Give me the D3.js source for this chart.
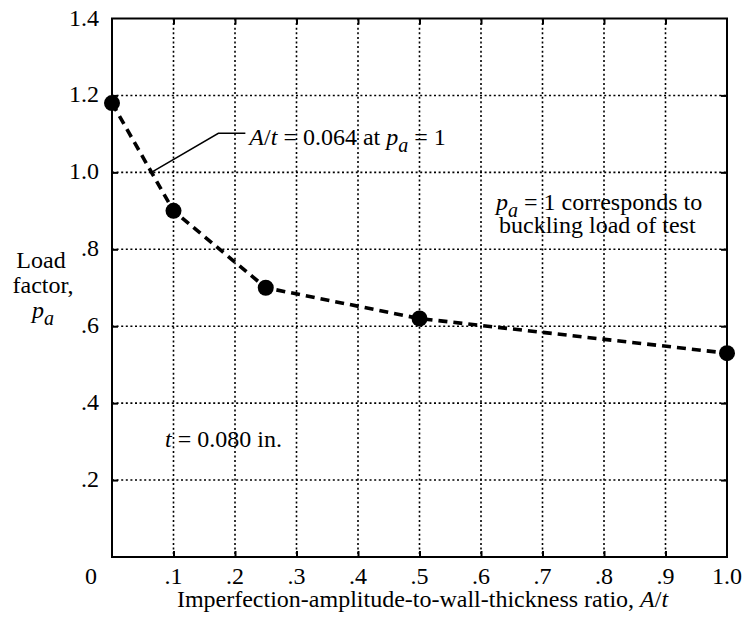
<!DOCTYPE html>
<html>
<head>
<meta charset="utf-8">
<script src="https://cdn.jsdelivr.net/npm/d3@7"></script>
<style>
  body { margin: 0; background: #fff; }
</style>
</head>
<body>
<svg width="748" height="619"></svg>
<script>
// Dados: A/t (razao) x fator de carga p_a
var razaoAt = [0, 0.1, 0.25, 0.5, 1.0];
var fatorCarga = [1.18, 0.90, 0.70, 0.62, 0.53];

// Ticks e rotulos dos eixos
var ticksX = [0, 0.1, 0.2, 0.3, 0.4, 0.5, 0.6, 0.7, 0.8, 0.9, 1.0];
var rotulosX = ["0", ".1", ".2", ".3", ".4", ".5", ".6", ".7", ".8", ".9", "1.0"];
var ticksY = [0.2, 0.4, 0.6, 0.8, 1.0, 1.2, 1.4];
var rotulosY = [".2", ".4", ".6", ".8", "1.0", "1.2", "1.4"];

// Ponto da anotacao (A/t = 0.064 em p_a = 1)
var anotacaoAt = 0.064, anotacaoP = 1.0;

var svg = d3.select("svg");
var margem = {esq: 112, dir: 727, topo: 18.5, base: 557};

var x = d3.scaleLinear().domain([0, 1]).range([margem.esq, margem.dir]);
var y = d3.scaleLinear().domain([0, 1.4]).range([margem.base, margem.topo]);

// Grade pontilhada
var grade = svg.append("g").attr("class", "grade");
grade.selectAll("line.gx")
  .data(ticksX.filter(function(d){ return d > 0 && d < 1; }))
  .enter().append("line")
    .attr("x1", function(d){ return x(d); })
    .attr("x2", function(d){ return x(d); })
    .attr("y1", y(1.4)).attr("y2", y(0))
    .attr("stroke", "#000").attr("stroke-width", 1.6)
    .attr("stroke-dasharray", "2,2.6");
grade.selectAll("line.gy")
  .data(ticksY.filter(function(d){ return d < 1.4; }))
  .enter().append("line")
    .attr("y1", function(d){ return y(d); })
    .attr("y2", function(d){ return y(d); })
    .attr("x1", x(0)).attr("x2", x(1))
    .attr("stroke", "#000").attr("stroke-width", 1.6)
    .attr("stroke-dasharray", "2,2.6");

// Marcas solidas curtas nas bordas (eixos do d3, para dentro)
var eixoInfer = d3.axisBottom(x).tickValues(ticksX.slice(1, -1)).tickSize(-6).tickFormat("");
var eixoSuper = d3.axisTop(x).tickValues(ticksX.slice(1, -1)).tickSize(-6).tickFormat("");
var eixoEsq = d3.axisLeft(y).tickValues(ticksY.slice(0, -1)).tickSize(-6).tickFormat("");
var eixoDir = d3.axisRight(y).tickValues(ticksY.slice(0, -1)).tickSize(-6).tickFormat("");
[[eixoInfer, "translate(0," + y(0) + ")"], [eixoSuper, "translate(0," + y(1.4) + ")"],
 [eixoEsq, "translate(" + x(0) + ",0)"], [eixoDir, "translate(" + x(1) + ",0)"]]
  .forEach(function(e){
    var g = svg.append("g").attr("transform", e[1]).call(e[0]);
    g.select(".domain").remove();
    g.selectAll("text").remove();
    g.selectAll("line").attr("stroke", "#000").attr("stroke-width", 2);
  });

// Moldura
svg.append("rect")
  .attr("x", x(0)).attr("y", y(1.4))
  .attr("width", x(1) - x(0)).attr("height", y(0) - y(1.4))
  .attr("fill", "none").attr("stroke", "#000").attr("stroke-width", 2);

// Rotulos do eixo X ("0" fica no canto, deslocado para a esquerda)
svg.append("g").selectAll("text")
  .data(ticksX)
  .enter().append("text")
    .attr("x", function(d){ return d == 0 ? x(d) - 21 : x(d); })
    .attr("y", 584)
    .attr("text-anchor", "middle")
    .text(function(d, i){ return rotulosX[i]; });

// Rotulos do eixo Y
svg.append("g").selectAll("text")
  .data(ticksY)
  .enter().append("text")
    .attr("x", x(0) - 13)
    .attr("y", function(d){ return y(d) + 7; })
    .attr("text-anchor", "end")
    .text(function(d, i){ return rotulosY[i]; });

// Curva tracejada
var linha = d3.line()
  .x(function(d){ return x(d[0]); })
  .y(function(d){ return y(d[1]); });
var pontos = razaoAt.map(function(a, i){ return [a, fatorCarga[i]]; });
svg.append("path")
  .datum(pontos)
  .attr("d", linha)
  .attr("fill", "none")
  .attr("stroke", "#000")
  .attr("stroke-width", 3.6)
  .attr("stroke-dasharray", "9,6");

// Pontos
svg.append("g").selectAll("circle")
  .data(pontos)
  .enter().append("circle")
    .attr("cx", function(d){ return x(d[0]); })
    .attr("cy", function(d){ return y(d[1]); })
    .attr("r", 8)
    .attr("fill", "#000");

// Linha de chamada da anotacao
var ax = x(anotacaoAt), ay = y(anotacaoP);
svg.append("polyline")
  .attr("points", [[ax, ay], [ax + 67, ay - 39], [ax + 94, ay - 39]].join(" "))
  .attr("fill", "none").attr("stroke", "#000").attr("stroke-width", 1.5);

// Texto com italico e subscrito
function textoPa(t, partes) {
  partes.forEach(function(p){
    var s = t.append("tspan").text(p.t);
    if (p.i) s.style("font-style", "italic");
    if (p.sub) s.attr("dy", 7).style("font-size", "20px");
    if (p.volta) s.attr("dy", -7);
  });
}

var t1 = svg.append("text").attr("x", ax + 98).attr("y", 145);
textoPa(t1, [{t: "A", i: 1}, {t: "/"}, {t: "t", i: 1}, {t: " = 0.064 at "},
             {t: "p", i: 1}, {t: "a", i: 1, sub: 1}, {t: " = 1", volta: 1}]);

var t2 = svg.append("text").attr("x", 496).attr("y", 210);
textoPa(t2, [{t: "p", i: 1}, {t: "a", i: 1, sub: 1}, {t: " = 1 corresponds to", volta: 1}]);
svg.append("text").attr("x", 499).attr("y", 233).text("buckling load of test");

var t3 = svg.append("text").attr("x", 165).attr("y", 447);
textoPa(t3, [{t: "t", i: 1}, {t: " = 0.080 in."}]);

// Titulo do eixo Y
svg.append("text").attr("x", 41).attr("y", 268).attr("text-anchor", "middle").text("Load");
svg.append("text").attr("x", 43).attr("y", 293).attr("text-anchor", "middle").text("factor,");
var t4 = svg.append("text").attr("x", 32).attr("y", 318);
textoPa(t4, [{t: "p", i: 1}, {t: "a", i: 1, sub: 1}]);

// Titulo do eixo X
var t5 = svg.append("text").attr("x", (x(0) + x(1)) / 2 + 3).attr("y", 607).attr("text-anchor", "middle");
textoPa(t5, [{t: "Imperfection-amplitude-to-wall-thickness ratio, "}, {t: "A", i: 1}, {t: "/"}, {t: "t", i: 1}]);

// Fonte serifada aplicada direto em cada texto
svg.selectAll("text")
  .style("font-family", "Liberation Serif")
  .style("font-size", "24px")
  .style("fill", "#000");
</script>
</body>
</html>
